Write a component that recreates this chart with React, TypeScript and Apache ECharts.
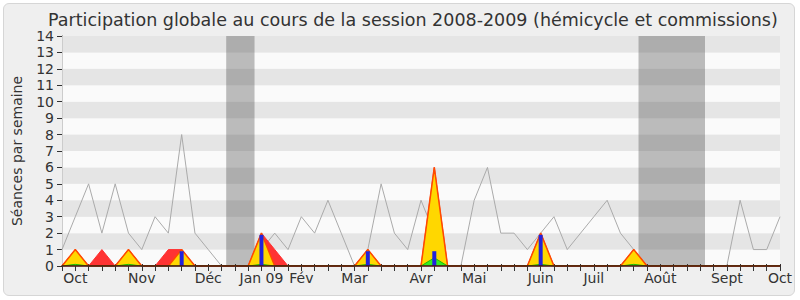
import React, { useEffect, useRef } from "react";
import * as echarts from "echarts";

// Week index (0 = first week of Oct 2008 session, 54 = first week of Oct 2009)
const weeks: number[] = Array.from({ length: 55 }, (_, i) => i);

// Month tick labels (week position, label)
const monthWeeks = [1, 6, 11, 15, 18, 22, 27, 31, 36, 40, 45, 50, 54];
const monthNames = ["Oct", "Nov", "Déc", "Jan 09", "Fév", "Mar", "Avr", "Mai", "Juin", "Juil", "Août", "Sept", "Oct"];

// Vacation periods (in weeks)
const vacations: [number, number][] = [
  [12.35, 14.48],
  [43.36, 48.36],
];

// Gray line (median participation)
const mediane = [
  1, 3, 5, 2, 5, 2, 1, 3, 2, 8,
  2, 1, 0, 0, 0, 1, 2, 1, 3, 2,
  4, 2, 0, 1, 5, 2, 1, 4, 2, 0,
  0, 4, 6, 2, 2, 1, 2, 3, 1, 2,
  3, 4, 2, 1, 0, 0, 0, 0, 0, 0,
  0, 4, 1, 1, 3,
];

// Red area
const commission = [
  0, 1, 0, 1, 0, 1, 0, 0, 1, 1,
  0, 0, 0, 0, 0, 2, 1, 0, 0, 0,
  0, 0, 0, 1, 0, 0, 0, 0, 6, 0,
  0, 0, 0, 0, 0, 0, 2, 0, 0, 0,
  0, 0, 0, 1, 0, 0, 0, 0, 0, 0,
  0, 0, 0, 0, 0,
];

// Yellow area
const hemicycle = [
  0, 1, 0, 0, 0, 1, 0, 0, 0, 1,
  0, 0, 0, 0, 0, 2, 0, 0, 0, 0,
  0, 0, 0, 1, 0, 0, 0, 0, 6, 0,
  0, 0, 0, 0, 0, 0, 2, 0, 0, 0,
  0, 0, 0, 1, 0, 0, 0, 0, 0, 0,
  0, 0, 0, 0, 0,
];

// Green area
const interventions = [
  0, 0.1, 0, 0, 0, 0.1, 0, 0, 0, 0,
  0, 0, 0, 0, 0, 0.1, 0, 0, 0, 0,
  0, 0, 0, 0.1, 0, 0, 0, 0, 0.5, 0,
  0, 0, 0, 0, 0, 0, 0.1, 0, 0, 0,
  0, 0, 0, 0.1, 0, 0, 0, 0, 0, 0,
  0, 0, 0, 0, 0,
];

// Blue bars
const questions = [
  0, 0, 0, 0, 0, 0, 0, 0, 0, 0.9,
  0, 0, 0, 0, 0, 1.9, 0, 0, 0, 0,
  0, 0, 0, 0.9, 0, 0, 0, 0, 0.9, 0,
  0, 0, 0, 0, 0, 0, 1.9, 0, 0, 0,
  0, 0, 0, 0, 0, 0, 0, 0, 0, 0,
  0, 0, 0, 0, 0,
];

const FONT = "DejaVu Sans";

const pairs = (vals: number[]) => weeks.map((w) => [w, vals[w]]);

export default function App() {
  const ref = useRef<HTMLDivElement>(null);

  useEffect(() => {
    if (!ref.current) return;
    const chart = echarts.init(ref.current, null, { renderer: "svg" });
    const labelFor = (v: number) => {
      const i = monthWeeks.indexOf(Math.round(v));
      return i >= 0 && Math.abs(v - Math.round(v)) < 1e-6 ? monthNames[i] : "";
    };
    chart.setOption({
      animation: false,
      backgroundColor: "transparent",
      title: {
        text: "Participation globale au cours de la session 2008-2009 (hémicycle et commissions)",
        left: 43,
        top: 6,
        textStyle: { fontFamily: FONT, fontSize: 17.5, fontWeight: "normal", color: "#333" },
      },
      grid: { left: 62, right: 20, top: 36, bottom: 34, containLabel: false },
      xAxis: [
        {
          type: "value",
          min: 0,
          max: 54,
          interval: 1,
          z: 10,
          axisLine: { show: true, onZero: false, lineStyle: { color: "#4a0a0a", width: 1.5 } },
          axisTick: { show: true, length: 5, lineStyle: { color: "#333" } },
          axisLabel: {
            show: true,
            margin: 5,
            showMinLabel: true,
            showMaxLabel: true,
            fontFamily: FONT,
            fontSize: 14,
            color: "#333",
            formatter: (v: number) => labelFor(v),
          },
          splitLine: { show: false },
        },
        {
          type: "value",
          position: "top",
          min: 0,
          max: 54,
          interval: 1,
          axisLine: { show: false },
          axisTick: { show: true, length: 2, lineStyle: { color: "#333" } },
          axisLabel: { show: false },
          splitLine: { show: false },
        },
      ],
      yAxis: [
        {
          type: "value",
          min: 0,
          max: 14,
          interval: 1,
          name: "Séances par semaine",
          nameLocation: "middle",
          nameGap: 38,
          nameTextStyle: { fontFamily: FONT, fontSize: 14, color: "#333" },
          axisLine: { show: true, lineStyle: { color: "#333" } },
          axisTick: { show: true, length: 5, lineStyle: { color: "#333" } },
          axisLabel: { fontFamily: FONT, fontSize: 14, color: "#333", margin: 8 },
          splitLine: { show: false },
          splitArea: { show: true, areaStyle: { color: ["#fafafa", "#e5e5e5"] } },
        },
        {
          type: "value",
          position: "right",
          min: 0,
          max: 14,
          interval: 1,
          axisLine: { show: true, lineStyle: { color: "#cccccc" } },
          axisTick: { show: false },
          axisLabel: { show: false },
          splitLine: { show: false },
          splitArea: { show: false },
        },
      ],
      series: [
        {
          type: "line",
          name: "vacances",
          z: 1,
          data: [],
          silent: true,
          markArea: {
            silent: true,
            itemStyle: { color: "rgba(60,60,60,0.33)" },
            data: vacations.map(([a, b]) => [{ xAxis: a }, { xAxis: b }]),
          },
        },
        {
          type: "line",
          name: "Médiane",
          z: 2,
          data: pairs(mediane),
          showSymbol: false,
          symbol: "none",
          lineStyle: { color: "#aaaaaa", width: 1 },
        },
        {
          type: "line",
          name: "Commission",
          z: 3,
          data: pairs(commission),
          symbol: "none",
          lineStyle: { color: "#ff3333", width: 1 },
          areaStyle: { color: "#ff3333", opacity: 1 },
        },
        {
          type: "line",
          name: "Hémicycle",
          z: 4,
          data: pairs(hemicycle),
          symbol: "none",
          lineStyle: { color: "#ff4a00", width: 1.5 },
          areaStyle: { color: "#ffd700", opacity: 1 },
        },
        {
          type: "line",
          name: "Interventions",
          z: 5,
          data: pairs(interventions),
          symbol: "none",
          lineStyle: { color: "#22bb00", width: 1 },
          areaStyle: { color: "#33ee22", opacity: 1 },
        },
        {
          type: "bar",
          name: "Questions",
          z: 6,
          data: pairs(questions),
          barWidth: 4,
          itemStyle: { color: "#2222dd" },
        },
      ],
    });
    return () => chart.dispose();
  }, []);

  return (
    <div style={{ position: "fixed", left: 0, top: 0, width: 800, height: 300, background: "#fff" }}>
      <div
        style={{
          position: "absolute",
          left: 3,
          top: 3,
          width: 790,
          height: 291,
          background: "#efefef",
          border: "1px solid #d6d6d6",
          borderRadius: 6,
        }}
      />
      <div ref={ref} style={{ position: "absolute", left: 0, top: 0, width: 800, height: 300 }} />
    </div>
  );
}
